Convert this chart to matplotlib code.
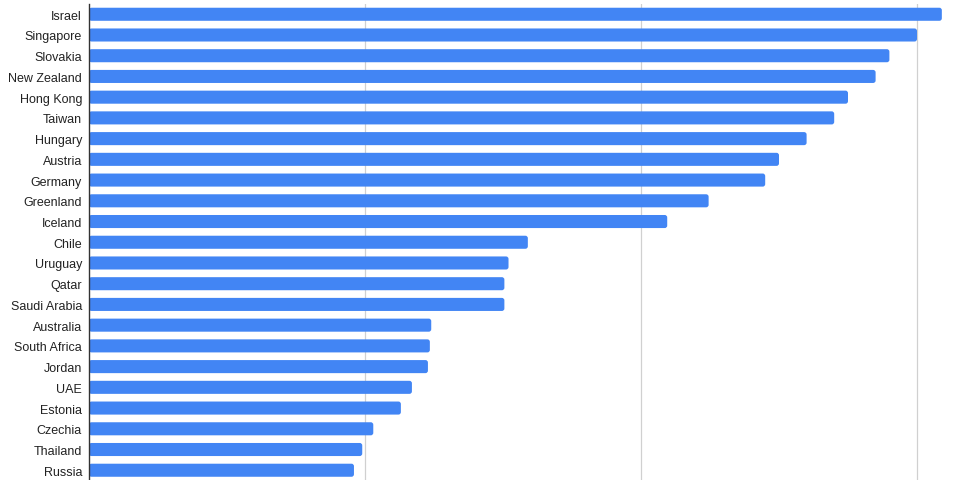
import matplotlib
matplotlib.use("Agg")
import matplotlib.pyplot as plt
from matplotlib.patches import FancyBboxPatch

countries = ["Israel", "Singapore", "Slovakia", "New Zealand", "Hong Kong", "Taiwan",
             "Hungary", "Austria", "Germany", "Greenland", "Iceland", "Chile", "Uruguay",
             "Qatar", "Saudi Arabia", "Australia", "South Africa", "Jordan", "UAE",
             "Estonia", "Czechia", "Thailand", "Russia"]
values = [30.9, 30.0, 29.0, 28.5, 27.5, 27.0, 26.0, 25.0, 24.5, 22.45, 20.95, 15.9,
          15.2, 15.05, 15.05, 12.4, 12.35, 12.28, 11.7, 11.3, 10.3, 9.9, 9.6]
grid_ticks = [10, 20, 30]

plt.rcParams['font.family'] = ['Liberation Sans', 'DejaVu Sans']
fig = plt.figure(figsize=(9.62, 4.81), dpi=100)
ax_h = 476.7
ax = fig.add_axes([89/962, -0.6/481, (952-89)/962, ax_h/481])

ypos = list(range(len(countries)))
bars = ax.barh(ypos, values, height=0.63, color="#4285F4", zorder=3)
ax.set_xlim(0, (952-89)/27.6)
ax.set_ylim(len(countries)-0.5, -0.5)

# round the bar corners
xpx = 27.6
ypx = ax_h/len(countries)
r = 2.5/xpx
for b in bars:
    x0, y0 = b.get_x(), b.get_y()
    w, h = b.get_width(), b.get_height()
    p = FancyBboxPatch((x0, y0), w, h,
                       boxstyle=f"round,pad=0,rounding_size={r}",
                       mutation_aspect=xpx/ypx,
                       facecolor="#4285F4", edgecolor="none", zorder=3)
    b.set_visible(False)
    ax.add_patch(p)

ax.set_yticks(ypos)
ax.set_yticklabels(countries, fontsize=9, color="#222222")
ax.tick_params(axis='y', length=0, pad=5)
ax.set_xticks(grid_ticks)
ax.tick_params(axis='x', length=0, labelbottom=False)
ax.grid(axis='x', color="#d0d0d0", linewidth=0.9, zorder=0)
for s in ["top", "right", "bottom"]:
    ax.spines[s].set_visible(False)
ax.spines["left"].set_color("#333333")
ax.spines["left"].set_linewidth(1)
ax.spines["left"].set_zorder(4)

fig.savefig("out.png", dpi=100)
